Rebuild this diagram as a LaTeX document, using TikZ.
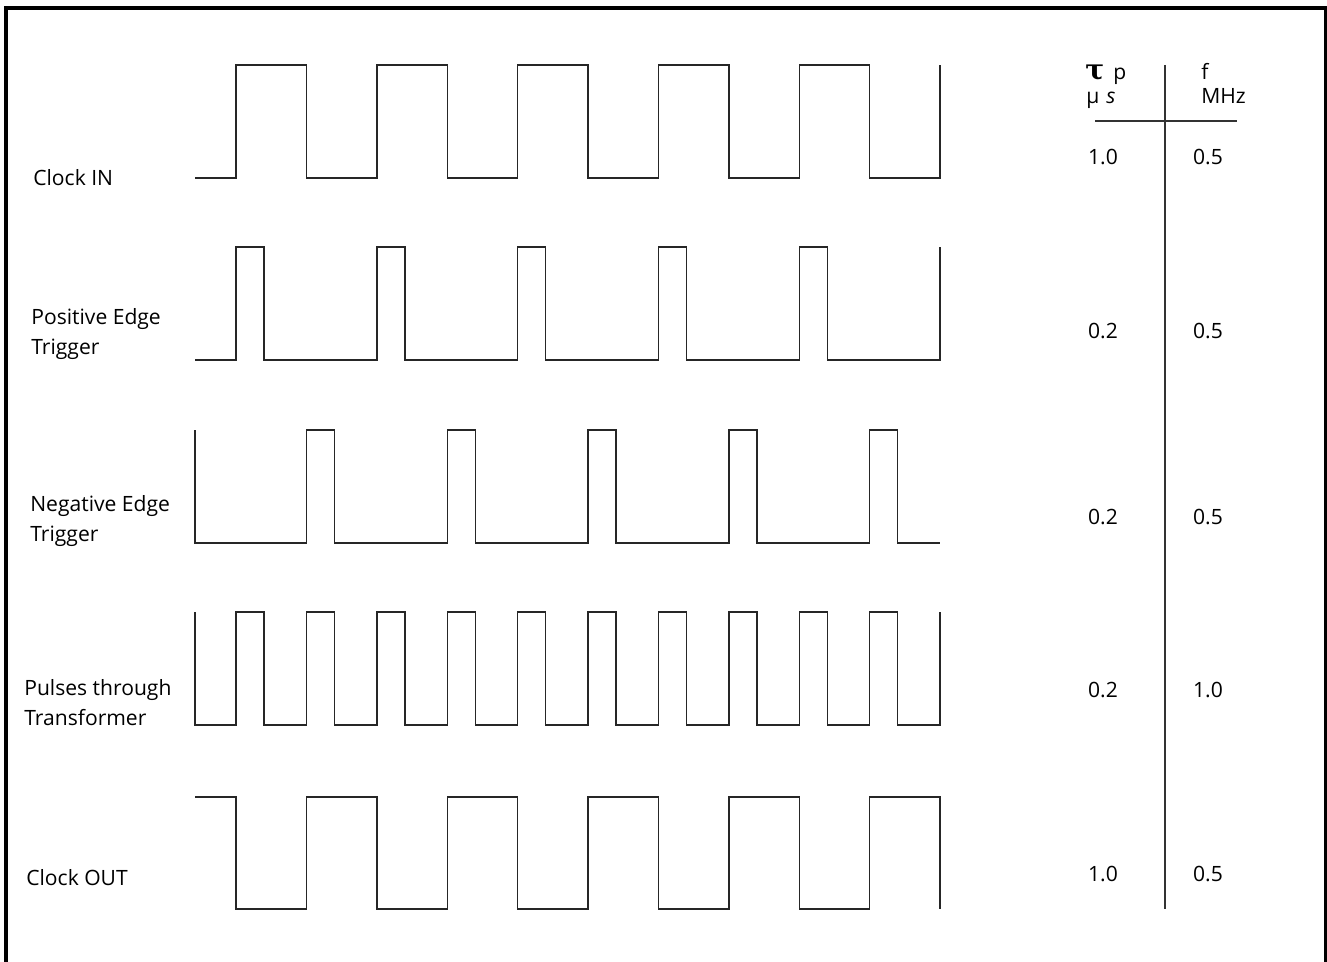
\documentclass[tikz,border=0pt]{standalone}
\usepackage{fontspec}
\setmainfont{Open Sans}
\newfontfamily\symbolfont{DejaVu Serif}
\begin{document}
\begin{tikzpicture}[x=0.02cm, y=-0.02cm]
    \tikzset{
        wave/.style={line width=0.8pt, black!85},
        rowLabel/.style={anchor=west, align=left, inner sep=0pt, font=\fontsize{12}{17}\selectfont},
        cellValue/.style={inner sep=0pt, font=\fontsize{12}{14}\selectfont},
        tableLine/.style={line width=0.8pt, black!80}
    }

    \def\halfPeriod{70.4}
    \def\fullPeriod{140.8}
    \def\pulseWidth{28}

    \useasboundingbox (0,0) rectangle (1327,962);

    % frame
    \draw[line width=1.8pt] (6,975) -- (6,8) -- (1326,8) -- (1326,975);

    % Clock IN
    \draw[wave] (195,178) \foreach \k in {0,...,4} {
        -- ({236+\fullPeriod*\k},178) -- ({236+\fullPeriod*\k},65)
        -- ({306.4+\fullPeriod*\k},65) -- ({306.4+\fullPeriod*\k},178) }
        -- (940,178) -- (940,65);

    % positive edge trigger
    \draw[wave] (195,360) \foreach \k in {0,...,4} {
        -- ({236+\fullPeriod*\k},360) -- ++(0,-113) -- ++(\pulseWidth,0) -- ++(0,113) }
        -- (940,360) -- (940,247);

    % negative edge trigger
    \draw[wave] (195,430) -- (195,543) \foreach \k in {0,...,4} {
        -- ({306.4+\fullPeriod*\k},543) -- ++(0,-113) -- ++(\pulseWidth,0) -- ++(0,113) }
        -- (940,543);

    % pulses through transformer
    \draw[wave] (195,612) -- (195,725) \foreach \k in {0,...,9} {
        -- ({236+\halfPeriod*\k},725) -- ++(0,-113) -- ++(\pulseWidth,0) -- ++(0,113) }
        -- (940,725) -- (940,612);

    % Clock OUT
    \draw[wave] (195,797) \foreach \k in {0,...,4} {
        -- ({236+\fullPeriod*\k},797) -- ({236+\fullPeriod*\k},909)
        -- ({306.4+\fullPeriod*\k},909) -- ({306.4+\fullPeriod*\k},797) }
        -- (940,797) -- (940,909);

    % row labels
    \node[rowLabel] (lblClockIn)  at (33,178) {Clock IN};
    \node[rowLabel] (lblPosEdge)  at (31,334) {Positive Edge\\Trigger};
    \node[rowLabel] (lblNegEdge)  at (30,521) {Negative Edge\\Trigger};
    \node[rowLabel] (lblPulses)   at (24,703) {Pulses through\\Transformer};
    \node[rowLabel] (lblClockOut) at (26,878) {Clock OUT};

    % table
    \draw[tableLine] (1165,65) -- (1165,909);
    \draw[tableLine] (1095,121) -- (1237,121);

    \node[cellValue, anchor=base west] (hdTau) at (1085,80) {\fontsize{16}{16}\selectfont\symbolfont\bfseries τ};
    \node[cellValue, anchor=base west] (hdP)   at (1113,80) {p};
    \node[cellValue, anchor=base west] (hdMu)  at (1086,104) {μ};
    \node[cellValue, anchor=base west] (hdS)   at (1106,104) {\textit{s}};
    \node[cellValue, anchor=base west] (hdF)   at (1201,80) {f};
    \node[cellValue, anchor=base west] (hdMHz) at (1201,104) {MHz};

    \foreach \yy/\tp/\fq [count=\i] in {157/1.0/0.5, 331/0.2/0.5, 517/0.2/0.5, 690/0.2/1.0, 874/1.0/0.5} {
        \node[cellValue] (tp\i) at (1103,\yy) {\tp};
        \node[cellValue] (fq\i) at (1208,\yy) {\fq};
    }

\end{tikzpicture}
\end{document}
